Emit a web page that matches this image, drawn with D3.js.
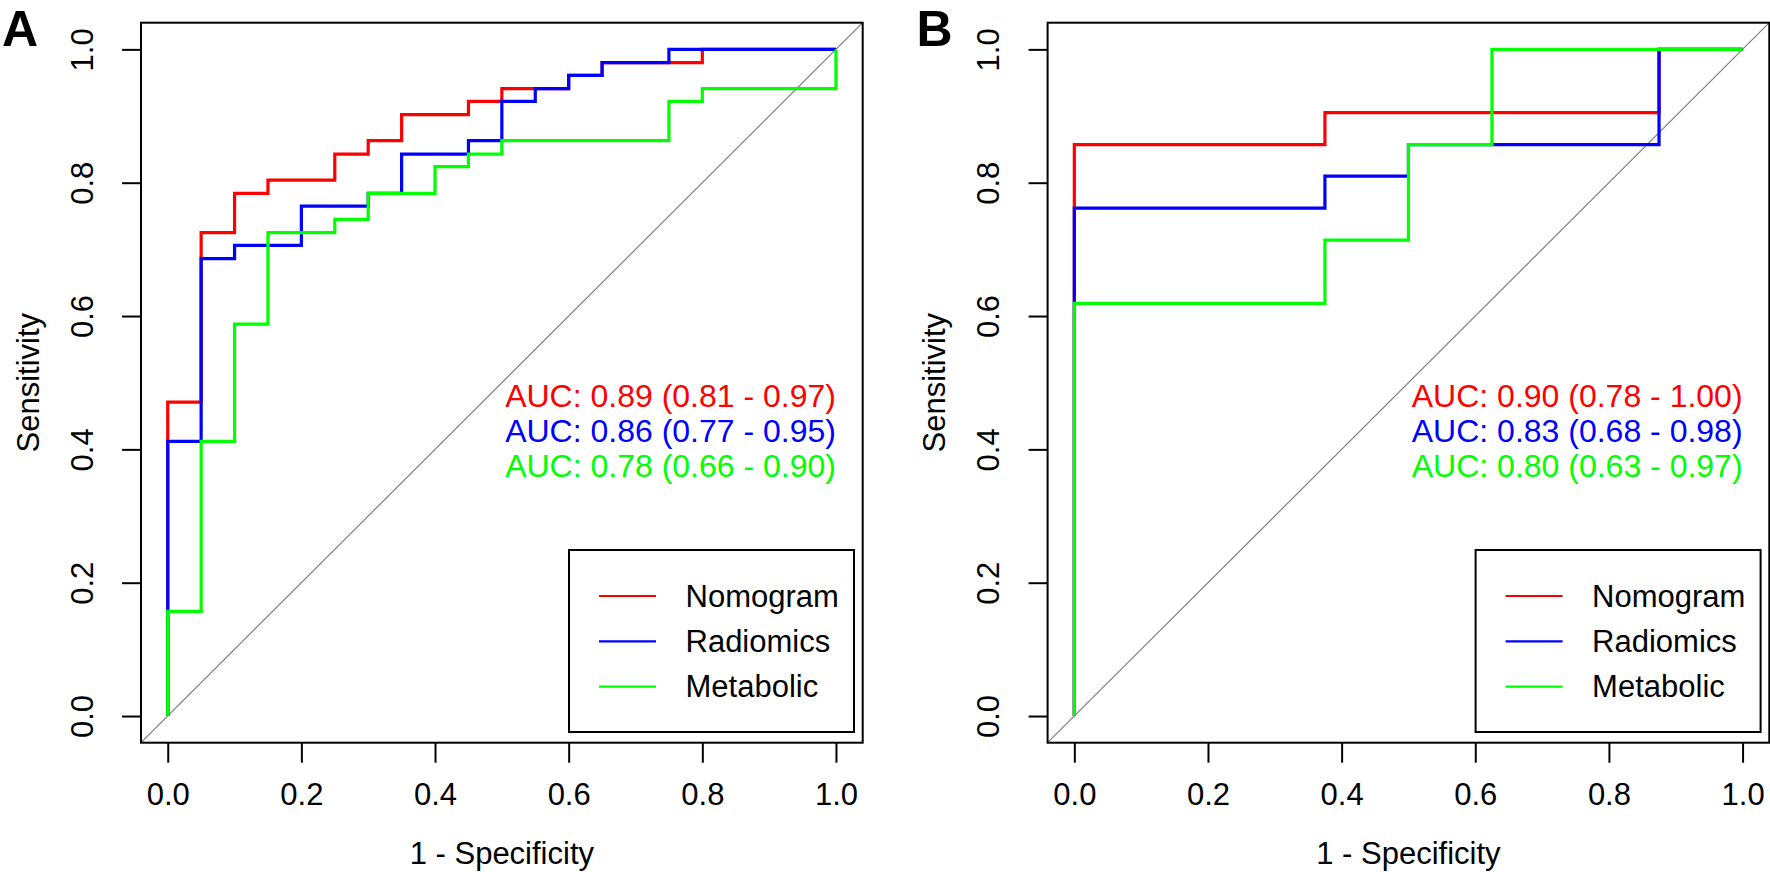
<!DOCTYPE html>
<html>
<head>
<meta charset="utf-8">
<script src="https://cdn.jsdelivr.net/npm/d3@7"></script>
<style>
  body { margin: 0; background: #fff; }
  svg { display: block; font-family: "Liberation Sans", Arial, sans-serif; }
</style>
</head>
<body>
<div id="chart"></div>
<script>
const W = 1770, H = 872;

const seriesNames = ['Nomogram', 'Radiomics', 'Metabolic'];
const seriesColors = ['#ff0000', '#0000ff', '#00ff00'];
const axisTicks = [0, 0.2, 0.4, 0.6, 0.8, 1.0];

// Panel A: step corners (1 - specificity, sensitivity), drawn with curveStepBefore
const aNomoFpr  = [0, 0.05, 0.10, 0.15, 0.25, 0.30, 0.35, 0.45, 0.50, 0.60, 0.65, 0.80, 1.00];
const aNomoSens = [0, 0.471, 0.725, 0.784, 0.804, 0.843, 0.863, 0.902, 0.922, 0.941, 0.961, 0.980, 1.00];
const aRadFpr   = [0, 0.05, 0.10, 0.20, 0.30, 0.35, 0.45, 0.50, 0.55, 0.60, 0.65, 0.75, 1.00];
const aRadSens  = [0, 0.412, 0.686, 0.706, 0.765, 0.784, 0.843, 0.863, 0.922, 0.941, 0.961, 0.980, 1.00];
const aMetFpr   = [0, 0.05, 0.10, 0.15, 0.25, 0.30, 0.40, 0.45, 0.50, 0.75, 0.80, 1.00, 1.00];
const aMetSens  = [0, 0.157, 0.412, 0.588, 0.725, 0.745, 0.784, 0.824, 0.843, 0.863, 0.922, 0.941, 1.00];
const aAuc = ['AUC: 0.89 (0.81 - 0.97)', 'AUC: 0.86 (0.77 - 0.95)', 'AUC: 0.78 (0.66 - 0.90)'];

// Panel B
const bNomoFpr  = [0, 0.375, 0.875, 1.00];
const bNomoSens = [0, 0.857, 0.905, 1.00];
const bRadFpr   = [0, 0.375, 0.50, 0.875, 1.00];
const bRadSens  = [0, 0.762, 0.810, 0.857, 1.00];
const bMetFpr   = [0, 0.375, 0.50, 0.625, 1.00];
const bMetSens  = [0, 0.619, 0.714, 0.857, 1.00];
const bAuc = ['AUC: 0.90 (0.78 - 1.00)', 'AUC: 0.83 (0.68 - 0.98)', 'AUC: 0.80 (0.63 - 0.97)'];

const aucY = [0.48, 0.427, 0.375];

const zip = (xs, ys) => xs.map((x, i) => [x, ys[i]]);

const panels = [
  { label: 'A', left: 141, auc: aAuc,
    curves: [zip(aNomoFpr, aNomoSens), zip(aRadFpr, aRadSens), zip(aMetFpr, aMetSens)] },
  { label: 'B', left: 1047.6, auc: bAuc,
    curves: [zip(bNomoFpr, bNomoSens), zip(bRadFpr, bRadSens), zip(bMetFpr, bMetSens)] }
];

const boxW = 721.7, boxTop = 22.7, boxBottom = 742.7;
const fs = 31;

const svg = d3.select('#chart').append('svg')
  .attr('width', W).attr('height', H);

panels.forEach(p => {
  const x = d3.scaleLinear().domain([-0.04, 1.04]).range([p.left, p.left + boxW]);
  const y = d3.scaleLinear().domain([-0.04, 1.04]).range([boxBottom, boxTop]);
  const g = svg.append('g');

  // identity line
  g.append('line')
    .attr('x1', x(-0.04)).attr('y1', y(-0.04))
    .attr('x2', x(1.04)).attr('y2', y(1.04))
    .attr('stroke', '#808080').attr('stroke-width', 1.2);

  // ROC curves
  const line = d3.line().x(d => x(d[0])).y(d => y(d[1])).curve(d3.curveStepBefore);
  p.curves.forEach((c, i) => {
    g.append('path').attr('d', line(c))
      .attr('fill', 'none').attr('stroke', seriesColors[i])
      .attr('stroke-width', 3.2).attr('stroke-linejoin', 'miter');
  });

  // box
  g.append('rect')
    .attr('x', x(-0.04)).attr('y', y(1.04))
    .attr('width', boxW).attr('height', boxBottom - boxTop)
    .attr('fill', 'none').attr('stroke', '#000').attr('stroke-width', 2);

  // x axis
  const xAxis = g.append('g').attr('transform', `translate(0,${boxBottom})`)
    .call(d3.axisBottom(x).tickValues(axisTicks).tickFormat(d3.format('.1f'))
      .tickSize(20).tickPadding(20));
  xAxis.select('.domain').remove();
  xAxis.selectAll('.tick line').attr('stroke', '#000').attr('stroke-width', 2);
  xAxis.selectAll('.tick text').attr('font-size', fs).attr('fill', '#000')
    .attr('font-family', '"Liberation Sans", Arial, sans-serif');

  // y axis
  const yAxis = g.append('g').attr('transform', `translate(${p.left},0)`)
    .call(d3.axisLeft(y).tickValues(axisTicks).tickFormat(d3.format('.1f')).tickSize(19));
  yAxis.select('.domain').remove();
  yAxis.selectAll('.tick line').attr('stroke', '#000').attr('stroke-width', 2);
  yAxis.selectAll('.tick text')
    .attr('x', null).attr('dy', null)
    .attr('text-anchor', 'middle').attr('dominant-baseline', 'central')
    .attr('transform', 'translate(-59,0) rotate(-90)')
    .attr('font-size', fs).attr('fill', '#000')
    .attr('font-family', '"Liberation Sans", Arial, sans-serif');

  // axis titles
  g.append('text')
    .attr('x', x(0.5)).attr('y', 853)
    .attr('text-anchor', 'middle').attr('dominant-baseline', 'central')
    .attr('font-size', fs).text('1 - Specificity');
  g.append('text')
    .attr('transform', `translate(${p.left - 113},${y(0.5)}) rotate(-90)`)
    .attr('text-anchor', 'middle').attr('dominant-baseline', 'central')
    .attr('font-size', fs).text('Sensitivity');

  // AUC labels
  p.auc.forEach((t, i) => {
    g.append('text')
      .attr('x', x(1)).attr('y', y(aucY[i]))
      .attr('text-anchor', 'end').attr('dominant-baseline', 'central')
      .attr('font-size', fs + 1).attr('fill', seriesColors[i]).text(t);
  });

  // legend
  const lgW = 285, lgH = 182;
  const lgX = p.left + boxW - 8.7 - lgW, lgY = boxBottom - 10.7 - lgH;
  const lg = g.append('g').attr('transform', `translate(${lgX},${lgY})`);
  lg.append('rect').attr('width', lgW).attr('height', lgH)
    .attr('fill', '#fff').attr('stroke', '#000').attr('stroke-width', 2);
  seriesNames.forEach((name, i) => {
    const ly = 46 + i * 45.3;
    lg.append('line').attr('x1', 30).attr('x2', 87).attr('y1', ly).attr('y2', ly)
      .attr('stroke', seriesColors[i]).attr('stroke-width', 2.2);
    lg.append('text').attr('x', 116.5).attr('y', ly)
      .attr('dominant-baseline', 'central').attr('font-size', fs).text(name);
  });

  // panel letter
  svg.append('text')
    .attr('x', p.left - (p.label === 'A' ? 139 : 131)).attr('y', 46)
    .attr('font-size', 50).attr('font-weight', 'bold').text(p.label);
});
</script>
</body>
</html>
